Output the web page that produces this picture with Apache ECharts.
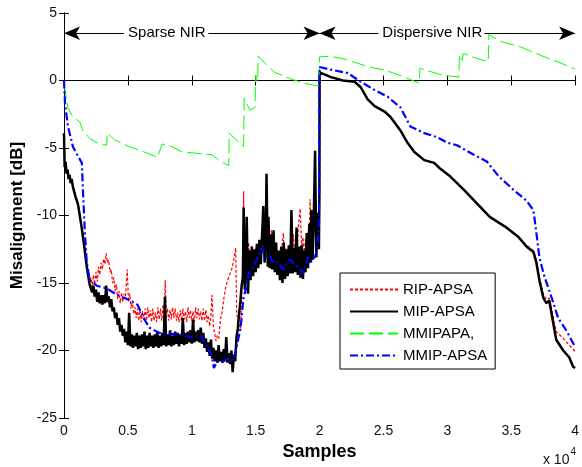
<!DOCTYPE html>
<html>
<head>
<meta charset="utf-8">
<script src="https://cdn.jsdelivr.net/npm/echarts@6/dist/echarts.min.js"></script>
<style>
	html, body { margin: 0; padding: 0; background: #fff; }
	#chart { width: 582px; height: 467px; }
</style>
</head>
<body>
<div id="chart"></div>
<script>
// series names as in the legend
const names = ['RIP-APSA', 'MIP-APSA', 'MMIPAPA,', 'MMIP-APSA'];

// [samples, misalignment dB]
const ripApsa = [
	[0,-3.9],[50,-6.4],[120,-6.0],[200,-6.9],[280,-6.6],[360,-7.3],[440,-7.0],[520,-7.6],[600,-7.3],[700,-7.9],
	[800,-8.1],[900,-8.4],[1000,-8.8],[1100,-9.1],[1200,-9.7],[1300,-10.3],[1400,-10.9],[1500,-11.6],[1600,-12.3],
	[1700,-13.0],[1800,-13.7],[1900,-14.3],[2000,-15.0],[2100,-14.6],[2200,-15.3],[2300,-14.4],[2400,-15.1],
	[2500,-14.2],[2600,-14.9],[2700,-13.8],[2800,-14.4],[2900,-13.5],[3000,-14.0],[3100,-13.2],[3200,-13.6],
	[3300,-12.8],[3400,-13.5],[3500,-13.3],[3600,-14.2],[3700,-14.0],[3800,-15.0],[3900,-14.6],[4000,-15.6],
	[4100,-15.1],[4200,-16.2],[4300,-15.6],[4400,-16.5],[4500,-15.7],[4600,-16.4],[4700,-15.8],[4800,-16.2],
	[4950,-14.0],[5050,-16.4],[5150,-15.8],[5250,-16.9],[5350,-16.3],[5450,-17.3],[5550,-16.8],[5650,-17.6],
	[5750,-16.9],[5850,-17.8],[5950,-17.0],[6050,-17.9],[6150,-17.1],[6250,-17.7],[6350,-16.9],[6450,-17.8],
	[6550,-16.8],[6650,-17.6],[6750,-17.0],[6850,-17.9],[6950,-16.9],[7050,-17.8],[7150,-17.2],[7250,-17.9],
	[7350,-16.8],[7450,-17.7],[7550,-16.9],[7650,-17.8],[7750,-16.6],[7850,-17.6],[7920,-14.8],[8000,-17.5],
	[8100,-16.9],[8200,-17.8],[8300,-17.0],[8400,-17.7],[8500,-16.8],[8600,-17.6],[8700,-16.9],[8800,-17.8],
	[8900,-17.2],[9000,-17.9],[9100,-17.0],[9200,-17.8],[9300,-16.9],[9400,-17.7],[9500,-17.1],[9600,-17.9],
	[9700,-16.8],[9800,-17.6],[9900,-17.0],[10000,-17.8],[10100,-17.1],[10200,-17.9],[10300,-16.8],[10400,-17.6],
	[10500,-16.9],[10600,-17.7],[10700,-17.1],[10800,-17.8],[10900,-16.9],[11000,-17.8],[11100,-17.0],[11200,-17.9],
	[11300,-17.4],[11400,-18.2],[11500,-17.5],[11573,-15.9],[11700,-18.3],[11800,-18.8],[11900,-19.3],[12000,-18.9],
	[12117,-19.1],[12250,-17.6],[12350,-17.3],[12500,-16.2],[12660,-15.3],[12800,-14.8],[12893,-14.6],[13000,-14.3],
	[13126,-14.0],[13300,-13.2],[13437,-12.4],[13515,-17.3],[13670,-18.0],[13825,-18.4],[13920,-15.5],[14000,-13.0],
	[14058,-8.2],[14150,-13.8],[14250,-11.5],[14350,-13.6],[14450,-12.0],[14550,-13.9],[14650,-12.3],[14750,-13.7],
	[14850,-12.8],[14950,-13.5],[15050,-12.2],[15150,-13.4],[15250,-11.9],[15350,-13.2],[15450,-11.6],[15550,-12.8],
	[15620,-9.6],[15700,-12.9],[15800,-11.2],[15900,-12.7],[16000,-11.4],[16100,-13.0],[16233,-11.1],[16350,-13.2],
	[16450,-12.2],[16550,-13.4],[16650,-12.5],[16750,-13.5],[16850,-12.7],[16950,-13.3],[17050,-12.4],[17165,-11.3],
	[17250,-13.2],[17350,-12.4],[17450,-13.3],[17550,-12.3],[17650,-13.1],[17750,-12.0],[17850,-12.6],[17950,-11.4],
	[18050,-12.8],[18150,-11.8],[18250,-12.7],[18350,-10.8],[18485,-9.5],[18600,-12.4],[18700,-11.6],[18800,-12.9],
	[18900,-11.7],[19000,-12.5],[19100,-11.2],[19200,-12.4],[19262,-8.8],[19350,-11.8],[19450,-10.9],[19550,-11.5],
	[19650,-8.4],[19750,-10.8],[19850,-9.9],[19950,-10.5],[19990,-9.0],[20000,0.6],
	[20893,0.25],[21825,0.0],[22757,-0.1],[23223,-0.5],[23767,-1.4],[24311,-1.9],[25087,-2.3],[25554,-2.7],
	[26330,-3.7],[26874,-4.6],[27417,-5.3],[28194,-5.9],[28970,-6.1],[29400,-6.5],[30214,-7.1],[31301,-8.1],
	[32310,-9.1],[33320,-10.1],[34640,-10.9],[35572,-11.6],[36194,-12.2],[36738,-12.6],[36971,-13.3],[37204,-14.6],
	[37514,-15.8],[37748,-16.2],[37981,-16.1],[38291,-17.5],[38524,-18.6],[39068,-19.1],[39534,-19.6],[39845,-19.9],
	[40000,-20.1]
];

const mipApsa = [
	[0,-3.9],[50,-6.4],[120,-6.0],[200,-6.9],[280,-6.6],[360,-7.3],[440,-7.0],[520,-7.6],[600,-7.3],[700,-7.9],
	[800,-8.0],[900,-8.6],[1000,-8.9],[1100,-9.2],[1200,-9.8],[1300,-10.4],[1400,-11.0],[1500,-11.7],[1600,-12.4],
	[1700,-13.2],[1800,-13.9],[1900,-14.5],[2000,-15.1],[2100,-15.0],[2200,-15.7],[2300,-15.2],[2400,-16.0],
	[2500,-15.5],[2600,-16.4],[2700,-15.7],[2800,-16.5],[2900,-15.9],[3000,-16.6],[3100,-15.9],[3200,-16.5],
	[3300,-15.2],[3400,-16.4],[3500,-16.0],[3600,-16.8],[3700,-16.2],[3800,-17.1],[3900,-16.8],[4000,-17.6],
	[4100,-17.2],[4200,-18.1],[4300,-17.6],[4400,-18.6],[4500,-18.1],[4600,-18.9],[4700,-18.4],[4800,-19.4],
	[4900,-18.6],[5000,-19.6],[5100,-17.2],[5200,-19.7],[5300,-18.8],[5400,-19.8],[5500,-18.9],[5600,-19.7],
	[5700,-18.7],[5800,-19.9],[5900,-18.9],[6000,-19.8],[6100,-18.8],[6200,-19.7],[6300,-18.6],[6400,-19.9],
	[6500,-18.9],[6600,-19.8],[6700,-18.7],[6800,-19.7],[6900,-18.9],[7000,-19.8],[7100,-18.8],[7200,-19.7],
	[7300,-18.6],[7400,-19.8],[7500,-18.9],[7600,-19.7],[7700,-18.7],[7800,-19.6],[7900,-16.0],[8000,-19.7],
	[8100,-18.8],[8200,-19.6],[8300,-18.5],[8400,-19.7],[8500,-18.9],[8600,-19.6],[8700,-18.6],[8800,-19.5],
	[8900,-18.7],[9000,-19.7],[9100,-18.8],[9200,-19.5],[9300,-17.6],[9400,-19.6],[9500,-18.7],[9600,-19.5],
	[9700,-18.6],[9800,-19.4],[9900,-18.5],[10000,-19.5],[10100,-17.7],[10200,-19.4],[10300,-18.6],[10400,-19.3],
	[10500,-18.5],[10600,-19.4],[10700,-18.3],[10800,-19.5],[10900,-18.7],[11000,-19.8],[11100,-19.1],[11200,-20.1],
	[11300,-19.4],[11400,-20.4],[11500,-19.2],[11600,-20.6],[11700,-19.8],[11800,-20.8],[11900,-20.0],[12000,-20.9],
	[12100,-19.6],[12200,-20.8],[12300,-20.1],[12400,-20.9],[12500,-19.9],[12600,-20.8],[12700,-19.0],[12800,-20.9],
	[12900,-20.2],[13000,-21.0],[13100,-20.0],[13200,-21.6],[13300,-20.3],[13400,-20.8],[13500,-19.0],[13600,-18.4],
	[13700,-17.3],[13800,-16.4],[13900,-15.2],[14000,-14.6],[14060,-9.4],[14150,-15.5],[14250,-12.8],[14300,-10.1],
	[14400,-15.8],[14500,-12.6],[14600,-14.8],[14700,-12.3],[14800,-14.5],[14900,-12.5],[15000,-14.2],[15100,-12.1],
	[15200,-13.9],[15300,-11.8],[15400,-13.6],[15500,-11.5],[15600,-9.3],[15700,-13.5],[15800,-11.0],[15850,-6.9],
	[15950,-13.8],[16000,-10.1],[16100,-13.9],[16200,-11.4],[16300,-14.0],[16400,-11.1],[16500,-14.2],[16600,-12.0],
	[16700,-14.4],[16800,-12.6],[16900,-14.8],[17000,-12.3],[17100,-15.0],[17200,-12.0],[17300,-14.7],[17400,-12.5],
	[17500,-14.5],[17600,-12.2],[17700,-14.3],[17800,-9.6],[17900,-14.3],[18000,-12.4],[18100,-14.2],[18200,-10.9],
	[18300,-14.4],[18400,-12.3],[18500,-14.6],[18600,-12.2],[18700,-14.7],[18800,-12.6],[18900,-14.2],[19000,-11.3],
	[19100,-13.9],[19200,-10.6],[19300,-13.5],[19350,-9.6],[19450,-13.3],[19550,-10.0],[19650,-5.2],[19750,-13.1],
	[19850,-9.8],[19950,-12.5],[19990,-8.0],[20000,0.6],
	[20893,0.25],[21825,0.0],[22757,-0.1],[23223,-0.5],[23767,-1.4],[24311,-1.9],[25087,-2.3],[25554,-2.7],
	[26330,-3.7],[26874,-4.6],[27417,-5.3],[28194,-5.9],[28970,-6.1],[29400,-6.5],[30214,-7.1],[31301,-8.1],
	[32310,-9.1],[33320,-10.1],[34640,-10.9],[35572,-11.6],[36194,-12.3],[36738,-12.7],[36971,-13.5],[37204,-14.8],
	[37514,-16.1],[37748,-16.5],[37981,-16.3],[38291,-18.0],[38524,-19.2],[39068,-20.0],[39534,-20.5],[39845,-21.2],
	[40000,-21.3]
];

const mmipapa = [
	[0,-0.3],[311,-2.0],[621,-2.6],[1243,-3.1],[1476,-3.7],[2019,-4.3],[2563,-4.6],[3340,-4.8],[3380,-3.9],
	[3961,-4.4],[5126,-4.9],[6291,-5.3],[7301,-5.7],[7690,-4.7],[8466,-4.9],[9243,-5.3],[10563,-5.4],[11573,-5.5],
	[12272,-6.0],[12893,-6.3],[12932,-3.9],[14058,-4.9],[14100,-1.3],[14550,-2.2],[14950,-2.0],[15000,0.4],
	[15150,-0.1],[15200,1.8],[15800,1.2],[16500,0.6],[17800,0.1],[18800,-0.2],[19600,-0.35],[19950,-0.4],
	[20000,1.75],[20800,1.8],[21900,1.6],[22900,1.3],[23900,1.0],[25200,0.75],[26500,0.3],[27800,-0.2],[27850,0.9],
	[29600,0.4],[30900,0.25],[30950,1.9],[31150,1.5],[31250,2.0],[32400,1.6],[33200,1.4],[33250,3.4],[34150,2.9],
	[35700,2.5],[37200,1.9],[38600,1.4],[40000,0.85]
];

const mmipApsa = [
	[0,0],[78,-1.7],[311,-3.4],[699,-4.9],[1087,-5.6],[1398,-6.1],[1476,-8.0],[1631,-11.2],[1786,-13.5],
	[2019,-14.8],[2563,-15.2],[3340,-15.4],[4194,-15.9],[4971,-16.2],[5748,-16.6],[6291,-17.7],[6680,-18.3],
	[7456,-18.7],[8777,-18.8],[10019,-19.0],[10718,-18.9],[10951,-19.3],[11300,-19.9],[11573,-20.4],[11728,-21.3],
	[12000,-20.8],[12272,-20.9],[12800,-20.6],[13282,-20.7],[13515,-19.7],[13825,-18.3],[14058,-16.0],[14200,-15.6],
	[14447,-14.3],[14700,-14.0],[15068,-13.3],[15300,-12.9],[15456,-12.4],[15650,-12.8],[15845,-13.1],[16100,-13.0],
	[16300,-13.4],[16544,-13.3],[16800,-13.6],[17000,-13.8],[17165,-14.0],[17400,-13.6],[17600,-13.3],[17786,-13.3],
	[18000,-13.6],[18330,-13.8],[18500,-14.0],[18718,-14.3],[18900,-13.7],[19107,-13.1],[19300,-13.4],[19495,-13.3],
	[19700,-12.9],[19883,-11.8],[19960,-10.5],[20000,1.0],
	[20893,0.8],[22214,0.55],[23223,-0.1],[24311,-0.7],[25320,-1.2],[26330,-2.0],[27107,-3.4],[28194,-3.9],
	[29204,-4.2],[29981,-4.6],[30757,-4.8],[32077,-5.5],[33087,-6.0],[34019,-7.1],[35184,-8.1],[36194,-8.9],
	[36738,-9.6],[36971,-11.3],[37204,-13.1],[37592,-14.5],[38136,-16.0],[38680,-17.6],[39301,-18.5],[39922,-19.6],
	[40000,-19.7]
];

// region annotations at height 3.5 dB: [arrow tip, gap start, gap end, arrow tip]
const arrowY = 3.5;
const sparseSpan = [0, 4700, 11300, 20000];
const dispersiveSpan = [20000, 24600, 32900, 40000];

let chart = echarts.init(document.getElementById('chart'));

const font = 'Liberation Sans, Arial, sans-serif';
const arrowLine = { color: '#000', width: 1, type: 'solid' };

function span(s, text) {
	return [
		[{ coord: [s[0], arrowY], symbol: 'arrow', label: { show: true, position: 'end', formatter: text, distance: 4 } },
		 { coord: [s[1], arrowY], symbol: 'none' }],
		[{ coord: [s[2], arrowY], symbol: 'none', label: { show: false } },
		 { coord: [s[3], arrowY], symbol: 'arrow' }]
	];
}

const option = {
	animation: false,
	textStyle: { fontFamily: font },
	grid: { left: 64, right: 3, top: 13, bottom: 49 },
	legend: {
		data: names,
		orient: 'vertical',
		left: 340,
		top: 273,
		padding: [9, 8, 6, 9],
		itemWidth: 48,
		itemHeight: 14,
		itemGap: 7,
		backgroundColor: '#fff',
		borderColor: '#000',
		borderWidth: 1,
		borderRadius: 0,
		itemStyle: { opacity: 0, borderWidth: 0 },
		textStyle: { fontSize: 15, color: '#000', fontFamily: font }
	},
	xAxis: [
		{
			type: 'value',
			min: 0, max: 40000, interval: 5000,
			name: 'Samples',
			nameLocation: 'middle',
			nameGap: 24,
			nameTextStyle: { fontSize: 18, fontWeight: 'bold', color: '#000' },
			axisLine: { lineStyle: { color: '#000', width: 1 } },
			axisTick: { inside: true, length: 5, lineStyle: { color: '#000' } },
			axisLabel: { fontSize: 14, color: '#111', margin: 6, formatter: v => v / 10000 },
			splitLine: { show: false }
		},
		{
			type: 'value', position: 'top',
			min: 0, max: 40000, interval: 5000,
			axisLine: { lineStyle: { color: '#000', width: 1 } },
			axisTick: { inside: true, length: 5, lineStyle: { color: '#000' } },
			axisLabel: { show: false },
			splitLine: { show: false }
		}
	],
	yAxis: [
		{
			type: 'value',
			min: -25, max: 5, interval: 5,
			name: 'Misalignment [dB]',
			nameLocation: 'middle',
			nameGap: 34,
			nameTextStyle: { fontSize: 17, fontWeight: 'bold', color: '#000' },
			axisLine: { show: true, lineStyle: { color: '#000', width: 1 } },
			axisTick: { show: true, inside: true, length: 5, lineStyle: { color: '#000' } },
			axisLabel: { fontSize: 14, color: '#111', margin: 7 },
			splitLine: { show: false }
		},
		{
			type: 'value', position: 'right',
			min: -25, max: 5, interval: 5,
			axisLine: { show: true, lineStyle: { color: '#000', width: 1 } },
			axisTick: { show: true, inside: true, length: 5, lineStyle: { color: '#000' } },
			axisLabel: { show: false },
			splitLine: { show: false }
		}
	],
	series: [
		{
			name: names[0], type: 'line', data: ripApsa, symbol: 'none', sampling: 'none',
			lineStyle: { color: '#ff0000', width: 1.2, type: [3, 2] },
			itemStyle: { color: '#ff0000' }
		},
		{
			name: names[1], type: 'line', data: mipApsa, symbol: 'none', sampling: 'none',
			lineStyle: { color: '#000', width: 2.5, type: 'solid' },
			itemStyle: { color: '#000' }
		},
		{
			name: names[2], type: 'line', data: mmipapa, symbol: 'none', sampling: 'none',
			lineStyle: { color: '#00ff00', width: 1, type: [14, 5] },
			itemStyle: { color: '#00ff00' }
		},
		{
			name: names[3], type: 'line', data: mmipApsa, symbol: 'none', sampling: 'none',
			lineStyle: { color: '#0000ff', width: 2.2, type: [8, 3, 2, 3] },
			itemStyle: { color: '#0000ff' },
			markLine: {
				silent: true,
				animation: false,
				symbolSize: [10, 16],
				lineStyle: arrowLine,
				label: { color: '#000', fontSize: 15, fontFamily: font },
				emphasis: { disabled: true },
				data: span(sparseSpan, 'Sparse NIR').concat(span(dispersiveSpan, 'Dispersive NIR'))
			}
		}
	],
	graphic: [
		{
			type: 'text',
			right: 6,
			bottom: 0,
			style: {
				text: '{a|x 10}{b|4}',
				rich: {
					a: { fontSize: 14, fontFamily: font, fill: '#111', verticalAlign: 'bottom' },
					b: { fontSize: 10, fontFamily: font, fill: '#111', verticalAlign: 'top', padding: [0, 0, 10, 1] }
				}
			}
		}
	]
};

chart.setOption(option);
window.addEventListener('resize', () => {
	chart.resize();
});
</script>
</body>
</html>
